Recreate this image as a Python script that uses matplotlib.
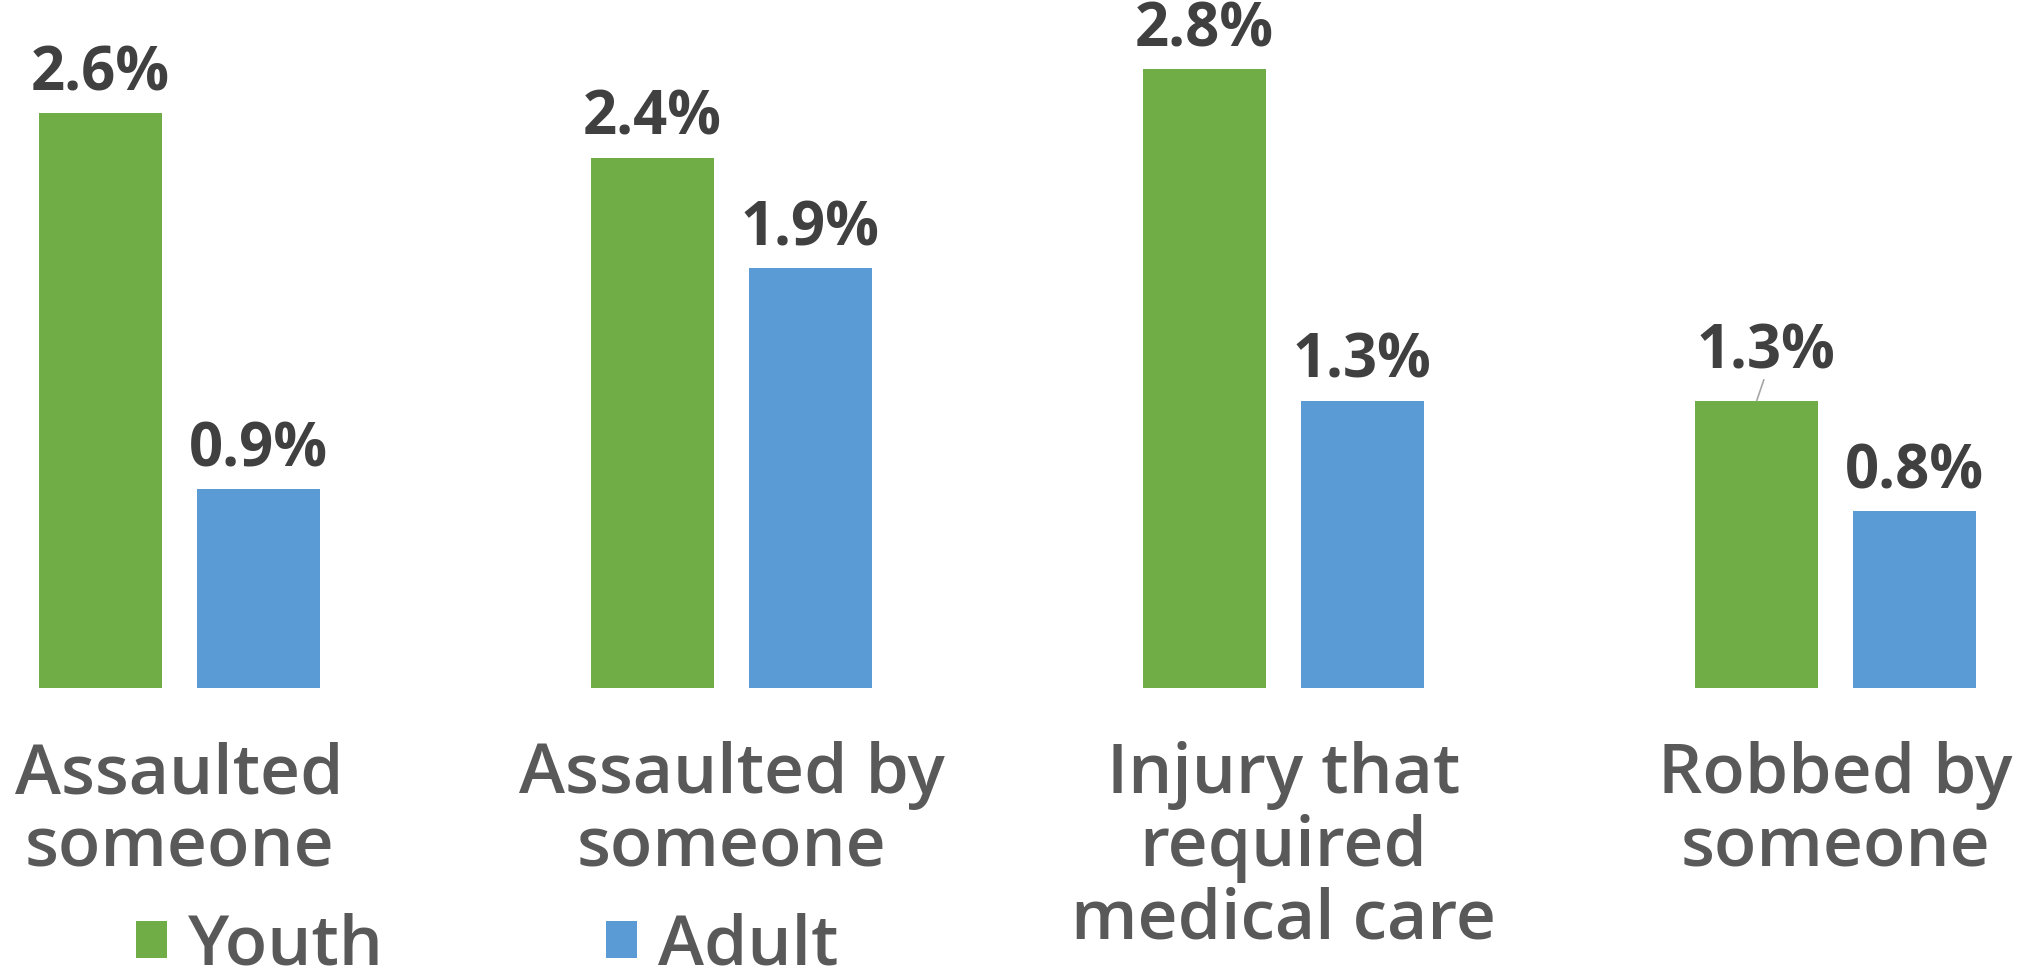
import matplotlib
matplotlib.use("Agg")
import matplotlib.pyplot as plt
from matplotlib.transforms import blended_transform_factory
import numpy as np

categories = ["Assaulted\nsomeone", "Assaulted by\nsomeone", "Injury that\nrequired\nmedical care", "Robbed by\nsomeone"]
youth = [2.6, 2.4, 2.8, 1.3]
adult = [0.9, 1.9, 1.3, 0.8]
series_names = ["Youth", "Adult"]
value_labels_youth = ["2.6%", "2.4%", "2.8%", "1.3%"]
value_labels_adult = ["0.9%", "1.9%", "1.3%", "0.8%"]

GREEN = "#70AD47"
BLUE = "#5B9BD5"
VAL_COLOR = "#404040"
CAT_COLOR = "#595959"
FONT = ["Open Sans", "DejaVu Sans"]

W, H = 2032, 980
fig = plt.figure(figsize=(W / 100, H / 100), dpi=100)
ax = fig.add_axes([0, (H - 688) / H, 1, 688 / H])
ax.set_xlim(-0.325, 3.356)
ax.set_ylim(0, 688 / 221)
ax.axis("off")

x = np.arange(len(categories))
bw = 0.223
off = 0.1427
b1 = ax.bar(x - off, youth, bw, color=GREEN, label=series_names[0])
b2 = ax.bar(x + off, adult, bw, color=BLUE, label=series_names[1])

for i, (xi, v, lab) in enumerate(zip(x - off, youth, value_labels_youth)):
    if i == 3:
        ax.annotate(lab, (xi, v), xytext=(7, 23), textcoords="offset points",
                    ha="center", va="baseline", fontsize=43, fontweight="bold",
                    color=VAL_COLOR, family=FONT)
        ax.annotate("", (xi, v), xytext=(xi + 0.013, v + 0.095),
                    arrowprops=dict(arrowstyle="-", color="#A6A6A6", lw=1.2,
                                    shrinkA=0, shrinkB=0))
    else:
        ax.annotate(lab, (xi, v), xytext=(0, 16.5), textcoords="offset points",
                    ha="center", va="baseline", fontsize=43, fontweight="bold",
                    color=VAL_COLOR, family=FONT)
for xi, v, lab in zip(x + off, adult, value_labels_adult):
    ax.annotate(lab, (xi, v), xytext=(0, 16.5), textcoords="offset points",
                ha="center", va="baseline", fontsize=43, fontweight="bold",
                color=VAL_COLOR, family=FONT)

# category labels
trans = blended_transform_factory(ax.transData, fig.transFigure)
baselines = [793, 866, 938]
for xi, cat in zip(x, categories):
    for j, line in enumerate(cat.split("\n")):
        ax.text(xi, (H - baselines[j]) / H, line, transform=trans, ha="center",
                va="baseline", fontsize=50, fontweight="semibold",
                color=CAT_COLOR, family=FONT, clip_on=False)

# legend
leg = fig.legend(handles=[b1, b2], labels=series_names, loc="center left",
                 bbox_to_anchor=(73 / W, (H - 947) / H), ncol=2, frameon=False,
                 prop=dict(family=FONT, size=50, weight="semibold"),
                 handlelength=0.45, handleheight=0.45, handletextpad=0.3,
                 columnspacing=3.2)
for t in leg.get_texts():
    t.set_color(CAT_COLOR)

fig.savefig("out.png", dpi=100)
